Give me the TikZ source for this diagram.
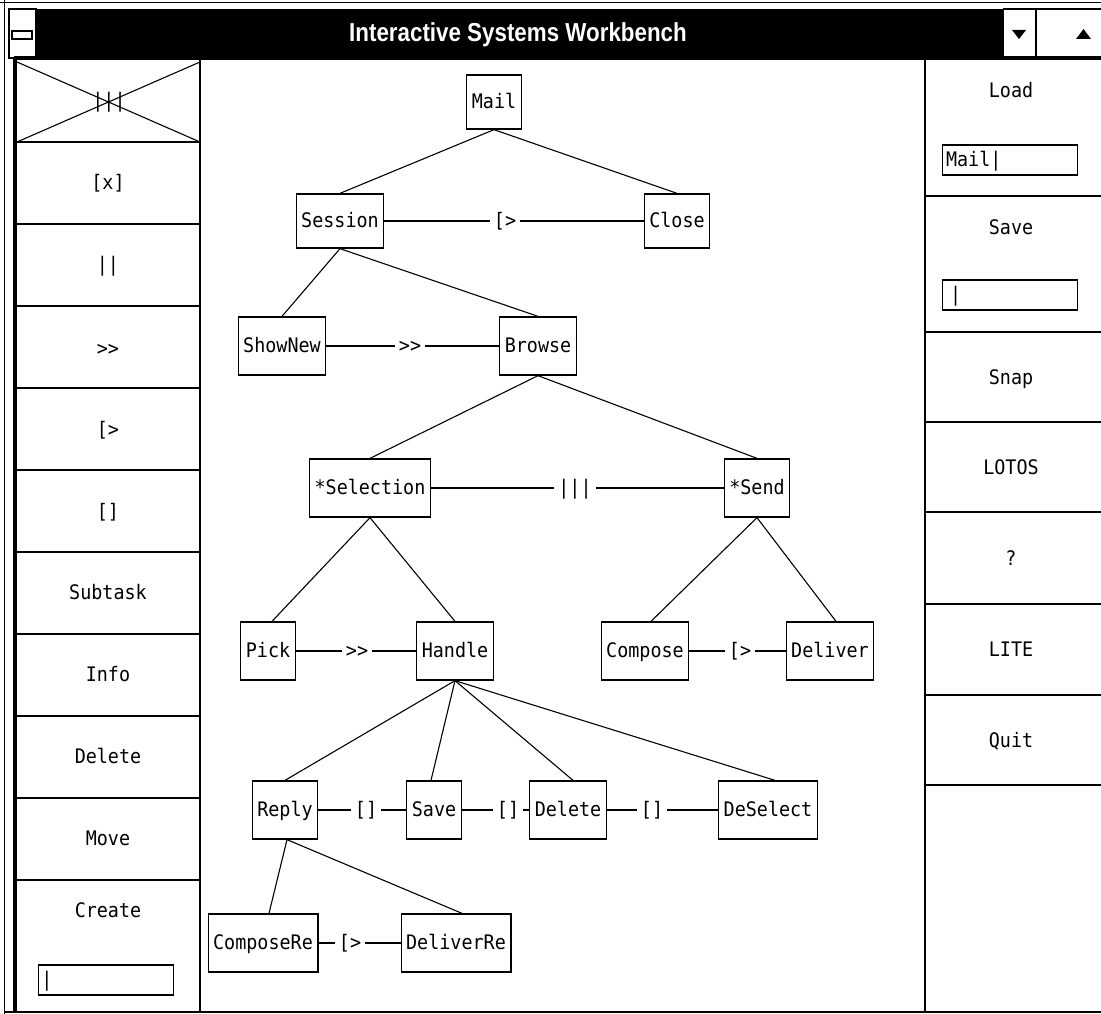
\documentclass[tikz,border=0pt]{standalone}
\usepackage{fontspec}
\newfontfamily\uifont[FakeStretch=0.92]{DejaVu Sans Mono}
\newfontfamily\titlefont[FakeStretch=0.86]{Liberation Sans}
\begin{document}
\begin{tikzpicture}[x=1pt,y=-1pt,
  uitext/.style={font=\uifont\fontsize{20}{22}\selectfont, text height=15pt, text depth=2.5pt},
  task/.style={uitext, draw, line width=1.3pt, inner xsep=5pt, minimum height=58pt},
  op/.style={uitext, inner xsep=4pt, inner ysep=2pt},
  edge/.style={line width=1.1pt},
  panel/.style={line width=1.5pt},
  field/.style={draw, line width=1.3pt, minimum width=135pt, minimum height=30pt, inner sep=0pt},
]
\useasboundingbox (0,0) rectangle (1101,1014);
\fill[white] (0,0) rectangle (1101,1014);

% ---------- window frame ----------
\draw[line width=1pt] (4,0) -- (4,1014);
\draw[line width=1pt] (0,3) -- (1101,3);
\fill[black] (36,9) rectangle (1003,58);
\draw[line width=1.2pt] (9,9) rectangle (36,58);
\node[draw, line width=1.4pt, minimum width=20pt, minimum height=8pt, inner sep=0pt] (sysbar) at (22,35) {};
\node[text=white, font=\titlefont\bfseries\fontsize{26}{28}\selectfont] (title) at (518,35) {Interactive Systems Workbench};
\draw[line width=1.2pt] (1003,9) -- (1101,9);
\draw[line width=1.2pt] (1003,9) -- (1003,58);
\draw[line width=1.2pt] (1036,9) -- (1036,58);
\fill[black] (1012,30) -- (1026,30) -- (1019,39) -- cycle;
\fill[black] (1076,39) -- (1091,39) -- (1083.5,29) -- cycle;
\draw[line width=4pt] (14,58) -- (1101,58);
\draw[line width=4pt] (15,58) -- (15,1012);
\draw[panel] (4,1012) -- (1101,1012);

% ---------- left panel ----------
\draw[panel] (200,60) -- (200,1012);
\foreach \yy in {142,224,306,388,470,552,634,716,798,880}
  \draw[panel] (15,\yy) -- (200,\yy);
\draw[line width=1.1pt] (17,62) -- (200,142);
\draw[line width=1.1pt] (17,142) -- (200,62);
\node[uitext, inner sep=1pt] (lpar) at (109,101) {|||};
\node[uitext] (lchoice) at (108,183) {[x]};
\node[uitext] (linter) at (108,265) {||};
\node[uitext] (lenable) at (108,349) {>>};
\node[uitext] (ldisable) at (108,430) {[>};
\node[uitext] (lchoice2) at (108,512) {[]};
\node[uitext] (lsub) at (108,593) {Subtask};
\node[uitext] (linfo) at (108,675) {Info};
\node[uitext] (ldel) at (108,757) {Delete};
\node[uitext] (lmove) at (108,839) {Move};
\node[uitext] (lcreate) at (108,911) {Create};
\node[field] (fcreate) at (106,980) {};
\node[uitext, anchor=west] (ccreate) at (fcreate.west) {|};

% ---------- right panel ----------
\draw[line width=2pt] (925,60) -- (925,1012);
\foreach \yy in {196,332,422,512,604,695,785}
  \draw[panel] (925,\yy) -- (1101,\yy);
\node[uitext] (rload) at (1011,91) {Load};
\node[field] (fload) at (1010,160) {};
\node[uitext, anchor=west, inner xsep=4pt] (tload) at (fload.west) {Mail|};
\node[uitext] (rsave) at (1011,228) {Save};
\node[field] (fsave) at (1010,295) {};
\node[uitext, anchor=west, inner xsep=8pt] (tsave) at (fsave.west) {|};
\node[uitext] (rsnap) at (1011,378) {Snap};
\node[uitext] (rlotos) at (1011,468) {LOTOS};
\node[uitext] (rq) at (1011,559) {?};
\node[uitext] (rlite) at (1011,650) {LITE};
\node[uitext] (rquit) at (1011,741) {Quit};

% ---------- task tree ----------
\node[task, minimum height=54pt] (mail) at (494,102) {Mail};
\node[task, minimum height=54pt] (session) at (340,221) {Session};
\node[task, minimum height=54pt] (close) at (677,221) {Close};
\node[task] (shownew) at (282,346) {ShowNew};
\node[task] (browse) at (538,346) {Browse};
\node[task] (selection) at (370,488) {*Selection};
\node[task] (send) at (757,488) {*Send};
\node[task] (pick) at (268,651) {Pick};
\node[task] (handle) at (455,651) {Handle};
\node[task] (compose) at (645,651) {Compose};
\node[task] (deliver) at (830,651) {Deliver};
\node[task] (reply) at (285,810) {Reply};
\node[task] (save) at (434,810) {Save};
\node[task] (delete) at (568,810) {Delete};
\node[task] (deselect) at (768,810) {DeSelect};
\node[task] (composere) at (263,943) {ComposeRe};
\node[task] (deliverre) at (456,943) {DeliverRe};

% hierarchy
\draw[edge] (mail.south) -- (session.north);
\draw[edge] (mail.south) -- (close.north);
\draw[edge] (session.south) -- (shownew.north);
\draw[edge] (session.south) -- (browse.north);
\draw[edge] (browse.south) -- (selection.north);
\draw[edge] (browse.south) -- (send.north);
\draw[edge] (selection.south) -- ([xshift=4pt]pick.north);
\draw[edge] (selection.south) -- (handle.north);
\draw[edge] (send.south) -- ([xshift=6pt]compose.north);
\draw[edge] (send.south) -- ([xshift=6pt]deliver.north);
\draw[edge] (handle.south) -- (reply.north);
\draw[edge] (handle.south) -- ([xshift=-3pt]save.north);
\draw[edge] (handle.south) -- ([xshift=5pt]delete.north);
\draw[edge] (handle.south) -- ([xshift=7pt]deselect.north);
\draw[edge] ([xshift=2pt]reply.south) -- ([xshift=6pt]composere.north);
\draw[edge] ([xshift=2pt]reply.south) -- ([xshift=6pt]deliverre.north);

% temporal operators
\node[op] (o1) at (505,221) {[>};
\draw[edge] (session.east) -- (o1) -- (close.west);
\node[op] (o2) at (410,346) {>>};
\draw[edge] (shownew.east) -- (o2) -- (browse.west);
\node[op] (o3) at (575,488) {|||};
\draw[edge] (selection.east) -- (o3) -- (send.west);
\node[op] (o4) at (357,651) {>>};
\draw[edge] (pick.east) -- (o4) -- (handle.west);
\node[op] (o5) at (740,651) {[>};
\draw[edge] (compose.east) -- (o5) -- (deliver.west);
\node[op] (o6) at (366,810) {[]};
\draw[edge] (reply.east) -- (o6) -- (save.west);
\node[op] (o7) at (508,810) {[]};
\draw[edge] (save.east) -- (o7) -- (delete.west);
\node[op] (o8) at (652,810) {[]};
\draw[edge] (delete.east) -- (o8) -- (deselect.west);
\node[op] (o9) at (350,943) {[>};
\draw[edge] (composere.east) -- (o9) -- (deliverre.west);
\end{tikzpicture}
\end{document}
